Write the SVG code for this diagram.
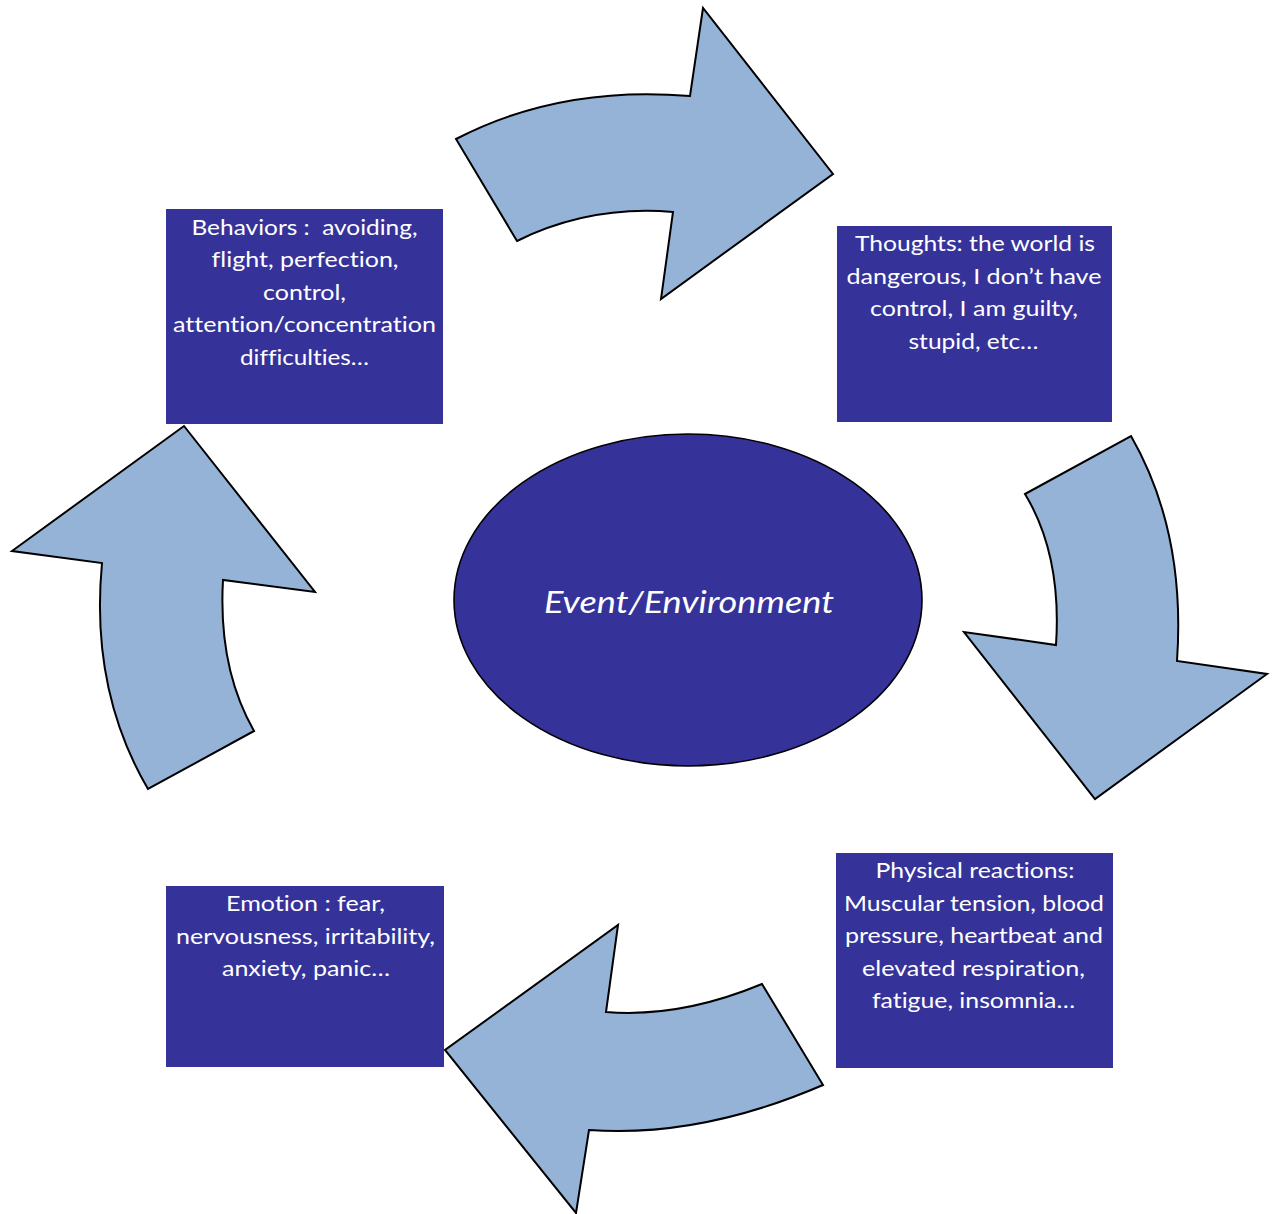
<svg xmlns="http://www.w3.org/2000/svg" width="1272" height="1214" viewBox="0 0 1272 1214">
  <style>
    .box { fill: #35339A; }
    .lbl { font-family: Lato, "Liberation Sans", sans-serif; font-size: 22px; fill: #FFFFFF; text-anchor: middle; font-variant-ligatures: none; }
    .arrow { fill: #95B3D7; stroke: #000000; stroke-width: 2; stroke-linejoin: miter; }
    .hub { fill: #35339A; stroke: #000000; stroke-width: 1.6; }
    .hubtxt { font-family: Lato, "Liberation Sans", sans-serif; font-style: italic; font-size: 31px; fill: #FFFFFF; text-anchor: middle; font-variant-ligatures: none; }
  </style>
  <rect width="1272" height="1214" fill="#FFFFFF"/>

  <!-- curved cycle arrows -->
  <g id="connectors">
    <path id="arrow-behaviors-thoughts" class="arrow" d="M456,139 Q560,85 690,96 L703,8 L833,174 L661,299 L673,212 Q590,205 517,241 Z"/>
    <path id="arrow-thoughts-physical" class="arrow" d="M1131,436 Q1186,532 1177,661 L1267,674 L1095,799 L964,632 L1056,645 Q1062,555 1025,494 Z"/>
    <path id="arrow-physical-emotion" class="arrow" d="M823,1085 L762,984 Q680,1018 606,1012 L618,925 L445,1050 L576,1213 L589,1130 Q700,1138 823,1085 Z"/>
    <path id="arrow-emotion-behaviors" class="arrow" d="M148,789 Q90,690 102,563 L12,551 L184,426 L315,592 L223,580 Q218,668 254,731 Z"/>
  </g>

  <!-- centre: event / environment -->
  <g id="event">
    <ellipse class="hub" cx="688" cy="600" rx="234" ry="166"/>
    <text class="hubtxt" x="689" y="612.5" textLength="290" lengthAdjust="spacingAndGlyphs">Event/Environment</text>
  </g>

  <g id="behaviors">
    <rect class="box" x="166" y="209" width="277" height="215"/>
    <text class="lbl" x="304.5" y="234.5" textLength="226" lengthAdjust="spacingAndGlyphs" xml:space="preserve">Behaviors :  avoiding,</text>
    <text class="lbl" x="305" y="267" textLength="187" lengthAdjust="spacingAndGlyphs">flight, perfection,</text>
    <text class="lbl" x="304.5" y="299.5" textLength="83" lengthAdjust="spacingAndGlyphs">control,</text>
    <text class="lbl" x="304.5" y="332" textLength="263" lengthAdjust="spacingAndGlyphs">attention/concentration</text>
    <text class="lbl" x="304.5" y="364.5" textLength="129" lengthAdjust="spacingAndGlyphs">difficulties…</text>
  </g>

  <g id="thoughts">
    <rect class="box" x="837" y="226" width="275" height="196"/>
    <text class="lbl" x="975" y="251" textLength="240" lengthAdjust="spacingAndGlyphs">Thoughts: the world is</text>
    <text class="lbl" x="974" y="283.6" textLength="255" lengthAdjust="spacingAndGlyphs">dangerous, I don’t have</text>
    <text class="lbl" x="974" y="316.2" textLength="208" lengthAdjust="spacingAndGlyphs">control, I am guilty,</text>
    <text class="lbl" x="973.5" y="348.8" textLength="130" lengthAdjust="spacingAndGlyphs">stupid, etc…</text>
  </g>

  <g id="physical">
    <rect class="box" x="836" y="853" width="277" height="215"/>
    <text class="lbl" x="975" y="878" textLength="199" lengthAdjust="spacingAndGlyphs">Physical reactions:</text>
    <text class="lbl" x="974" y="910.6" textLength="260" lengthAdjust="spacingAndGlyphs">Muscular tension, blood</text>
    <text class="lbl" x="974" y="943.2" textLength="258" lengthAdjust="spacingAndGlyphs">pressure, heartbeat and</text>
    <text class="lbl" x="973.5" y="975.8" textLength="223" lengthAdjust="spacingAndGlyphs">elevated respiration,</text>
    <text class="lbl" x="973.5" y="1008.4" textLength="203" lengthAdjust="spacingAndGlyphs">fatigue, insomnia…</text>
  </g>

  <g id="emotion">
    <rect class="box" x="166" y="886" width="278" height="181"/>
    <text class="lbl" x="305.5" y="911" textLength="159" lengthAdjust="spacingAndGlyphs">Emotion : fear,</text>
    <text class="lbl" x="305.5" y="943.6" textLength="259" lengthAdjust="spacingAndGlyphs">nervousness, irritability,</text>
    <text class="lbl" x="306" y="976.2" textLength="168" lengthAdjust="spacingAndGlyphs">anxiety, panic…</text>
  </g>
</svg>
